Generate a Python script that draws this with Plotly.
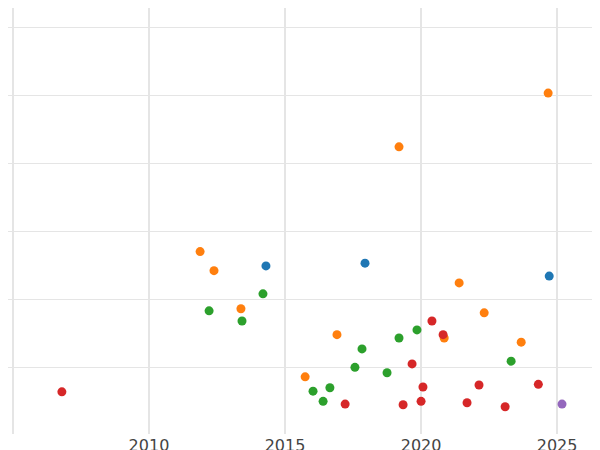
import plotly.graph_objects as go

# values
blue_x = [2014.30, 2017.94, 2024.71]
blue_y = [2.50, 2.54, 2.35]
orange_x = [2011.88, 2012.39, 2013.38, 2016.91, 2015.74, 2019.19, 2021.40, 2022.32, 2020.85, 2023.68, 2024.67]
orange_y = [2.71, 2.43, 1.87, 1.49, 0.87, 4.25, 2.25, 1.81, 1.44, 1.38, 5.04]
green_x = [2012.21, 2013.42, 2014.19, 2016.03, 2016.40, 2016.65, 2017.57, 2017.83, 2018.75, 2019.19, 2019.85, 2023.31]
green_y = [1.84, 1.69, 2.09, 0.66, 0.51, 0.71, 1.01, 1.28, 0.93, 1.44, 1.56, 1.10]
red_x = [2006.80, 2017.21, 2019.34, 2019.67, 2020.00, 2020.07, 2020.40, 2020.81, 2021.69, 2022.13, 2023.09, 2024.31]
red_y = [0.65, 0.47, 0.46, 1.06, 0.51, 0.72, 1.69, 1.49, 0.49, 0.75, 0.43, 0.76]
purple_x = [2025.18]
purple_y = [0.47]

series = [
    (blue_x, blue_y, '#1f77b4'),
    (orange_x, orange_y, '#ff7f0e'),
    (green_x, green_y, '#2ca02c'),
    (red_x, red_y, '#d62728'),
    (purple_x, purple_y, '#9467bd'),
]

fig = go.Figure()
for xs, ys, c in series:
    fig.add_trace(go.Scatter(x=xs, y=ys, mode='markers',
                             marker=dict(color=c, size=9), showlegend=False))

fig.update_layout(
    width=600, height=450,
    margin=dict(l=0, r=0, t=0, b=24, autoexpand=False),
    paper_bgcolor='white', plot_bgcolor='white',
    font=dict(family='DejaVu Sans', size=16, color='#444'),
)
fig.update_xaxes(range=[2004.82, 2026.87], tickvals=[2005, 2010, 2015, 2020, 2025],
                 ticktext=['', '2010', '2015', '2020', '2025'], automargin=False,
                 showgrid=True, gridcolor='#e5e5e5', gridwidth=2, zeroline=False)
fig.update_yaxes(range=[0.03, 6.29], dtick=1, showticklabels=False, automargin=False,
                 showgrid=True, gridcolor='#e5e5e5', gridwidth=1, zeroline=False)

fig.write_html("out.html")
